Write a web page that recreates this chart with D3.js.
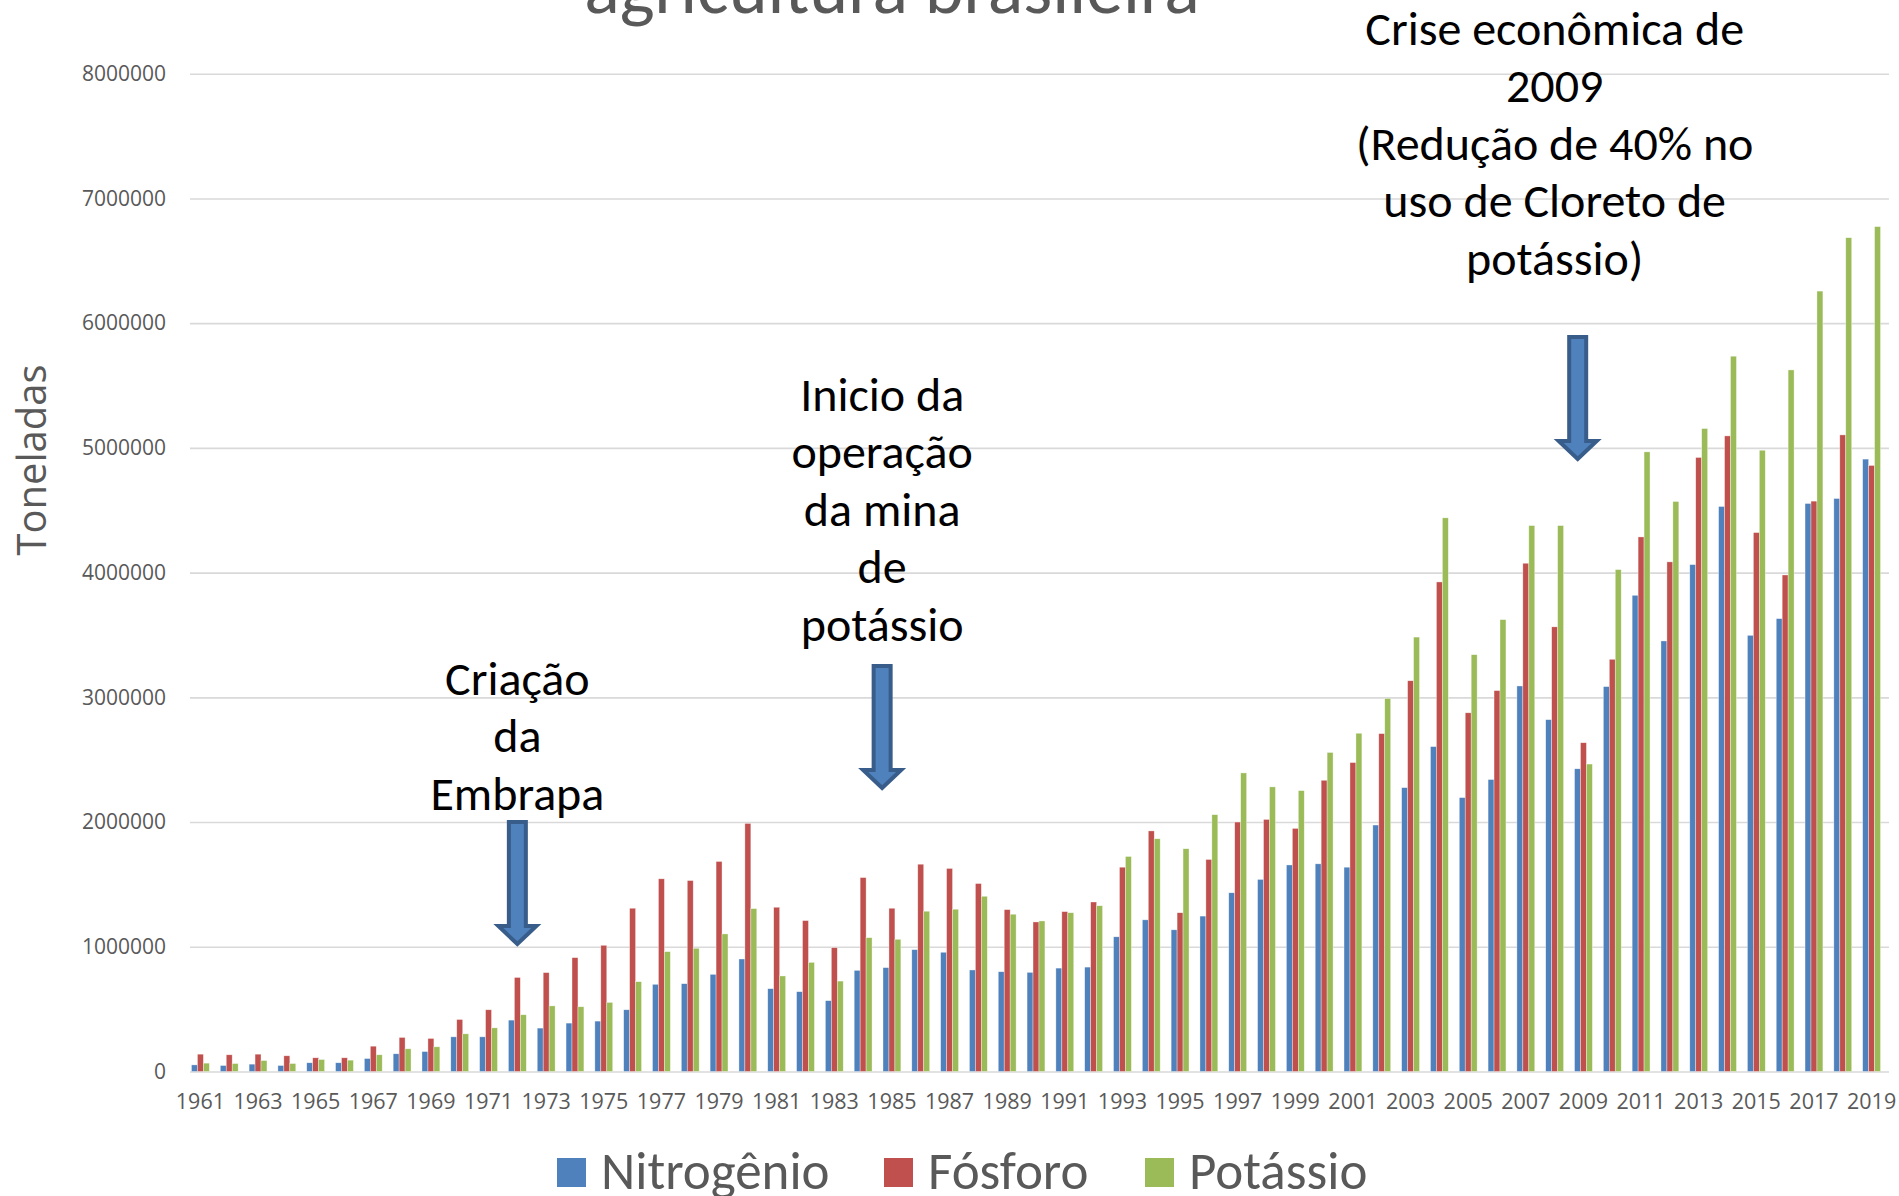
<!DOCTYPE html>
<html>
<head>
<meta charset="utf-8">
<script src="https://cdn.jsdelivr.net/npm/d3@7"></script>
<style>
    body { margin: 0; background: #fff; }
    svg { display: block; }
</style>
</head>
<body>
<div id="chart"></div>
<script>
///////////////////////////
// DATA
///////////////////////////

const years = [
    1961, 1962, 1963, 1964, 1965, 1966, 1967, 1968, 1969, 1970,
    1971, 1972, 1973, 1974, 1975, 1976, 1977, 1978, 1979, 1980,
    1981, 1982, 1983, 1984, 1985, 1986, 1987, 1988, 1989, 1990,
    1991, 1992, 1993, 1994, 1995, 1996, 1997, 1998, 1999, 2000,
    2001, 2002, 2003, 2004, 2005, 2006, 2007, 2008, 2009, 2010,
    2011, 2012, 2013, 2014, 2015, 2016, 2017, 2018, 2019
];

const nitrogenio = [
    53000, 48000, 59000, 48000, 70000, 70000, 104000, 142000, 160000, 278000,
    278000, 412000, 348000, 388000, 404000, 495000, 699000, 704000, 779000, 902000,
    664000, 640000, 568000, 811000, 833000, 977000, 956000, 814000, 800000, 795000,
    829000, 837000, 1080000, 1216000, 1136000, 1246000, 1433000, 1540000, 1656000, 1665000,
    1638000, 1976000, 2276000, 2605000, 2196000, 2341000, 3091000, 2821000, 2427000, 3086000,
    3818000, 3452000, 4064000, 4530000, 3497000, 3631000, 4554000, 4594000, 4910000
];

const fosforo = [
    139000, 134000, 139000, 126000, 110000, 110000, 203000, 273000, 265000, 417000,
    495000, 754000, 793000, 913000, 1012000, 1309000, 1545000, 1531000, 1684000, 1989000,
    1317000, 1210000, 993000, 1555000, 1309000, 1662000, 1628000, 1507000, 1298000, 1199000,
    1282000, 1359000, 1638000, 1929000, 1273000, 1700000, 2000000, 2021000, 1949000, 2335000,
    2477000, 2709000, 3133000, 3925000, 2876000, 3054000, 4075000, 3565000, 2636000, 3305000,
    4286000, 4086000, 4923000, 5096000, 4321000, 3981000, 4573000, 5104000, 4859000
];

const potassio = [
    67000, 64000, 88000, 64000, 96000, 91000, 134000, 182000, 198000, 302000,
    350000, 455000, 526000, 519000, 554000, 720000, 961000, 988000, 1103000, 1306000,
    766000, 875000, 725000, 1073000, 1060000, 1285000, 1301000, 1405000, 1261000, 1207000,
    1273000, 1329000, 1724000, 1866000, 1786000, 2059000, 2394000, 2282000, 2252000, 2558000,
    2712000, 2991000, 3483000, 4439000, 3342000, 3623000, 4377000, 4377000, 2465000, 4024000,
    4968000, 4570000, 5155000, 5735000, 4981000, 5625000, 6257000, 6685000, 6774000
];

const seriesNames = ['Nitrogênio', 'Fósforo', 'Potássio'];
const seriesColors = ['#4f81bd', '#c0504d', '#9bbb59'];
const yTicks = [0, 1000000, 2000000, 3000000, 4000000, 5000000, 6000000, 7000000, 8000000];

const notes = [
    { year: 1972, lines: ['Criação', 'da', 'Embrapa'] },
    { year: 1984.66, lines: ['Inicio da', 'operação', 'da mina', 'de', 'potássio'] },
    { year: 2008.8, lines: ['Crise econômica de', '2009', '(Redução de 40% no', 'uso de Cloreto de', 'potássio)'] }
];

///////////////////////////
// SETUP
///////////////////////////

const width = 1899;
const height = 1196;
const font = 'Carlito, Calibri, Lato, sans-serif';
const gray = '#595959';

const svg = d3.select('#chart')
    .append('svg')
    .attr('width', width)
    .attr('height', height);

const x = d3.scaleBand()
    .domain(years)
    .range([186, 1886])
    .paddingInner(0.38)
    .paddingOuter(0.19);

const xInner = d3.scaleBand()
    .domain(seriesNames)
    .range([0, x.bandwidth()]);

const y = d3.scaleLinear()
    .domain([0, 8000000])
    .range([1071.5, 73.7]);

const rows = years.map((yr, i) => {
    return { year: yr, values: [nitrogenio[i], fosforo[i], potassio[i]] };
});

// title is partly cut off at the top edge
svg.append('text')
    .attr('x', 892)
    .attr('y', 13)
    .attr('text-anchor', 'middle')
    .style('font-family', font)
    .style('font-size', '74px')
    .style('fill', gray)
    .text('agricultura brasileira');

///////////////////////////
// AXES
///////////////////////////

const yAxis = svg.append('g')
    .attr('transform', 'translate(190,0)')
    .call(d3.axisLeft(y).tickValues(yTicks).tickFormat(d3.format('d')).tickSize(-1699).tickPadding(24));

yAxis.select('.domain').remove();
yAxis.selectAll('.tick line')
    .style('stroke', '#d9d9d9')
    .style('stroke-width', 1.6);
yAxis.selectAll('.tick text')
    .style('font-family', '"Open Sans", sans-serif')
    .style('font-size', '21px')
    .style('fill', gray);

const xAxis = svg.append('g')
    .attr('transform', 'translate(0,1071.5)')
    .call(d3.axisBottom(x).tickValues(years.filter((d, i) => i % 2 === 0)).tickSize(0).tickPadding(22));

xAxis.select('.domain').remove();
xAxis.selectAll('.tick text')
    .style('font-family', '"Open Sans", sans-serif')
    .style('font-size', '21.5px')
    .style('fill', gray);

svg.append('text')
    .attr('transform', 'translate(46,460) rotate(-90)')
    .attr('text-anchor', 'middle')
    .style('font-family', '"Open Sans", sans-serif')
    .style('font-size', '40px')
    .style('fill', gray)
    .text('Toneladas');

///////////////////////////
// BARS
///////////////////////////

const group = svg.selectAll('.year')
    .data(rows)
    .enter().append('g')
    .attr('class', 'year')
    .attr('transform', (d) => { return `translate(${x(d.year)},0)` });

group.selectAll('rect')
    .data((d) => { return d.values.map((v, i) => ({ name: seriesNames[i], value: v, color: seriesColors[i] })) })
    .enter().append('rect')
    .attr('x', (d) => { return xInner(d.name) })
    .attr('y', (d) => { return y(d.value) })
    .attr('width', xInner.bandwidth())
    .attr('height', (d) => { return y(0) - y(d.value) })
    .style('fill', (d) => { return d.color })
    .style('stroke', '#fff')
    .style('stroke-opacity', 0.6)
    .style('stroke-width', 0.6);

///////////////////////////
// ANNOTATIONS
///////////////////////////

const arrowPath = (cx, top) => {
    const shaft = 8.5, head = 19;
    return `M${cx - shaft},${top} L${cx + shaft},${top} L${cx + shaft},${top + 104} ` +
        `L${cx + head},${top + 104} L${cx},${top + 122} L${cx - head},${top + 104} ` +
        `L${cx - shaft},${top + 104} Z`;
}

const noteTops = [822, 666, 337];
const noteFirstLine = [678, 394, 28];

notes.forEach((n, i) => {
    const cx = x(Math.floor(n.year)) + x.bandwidth() / 2 + (n.year % 1) * x.step();
    svg.append('path')
        .attr('d', arrowPath(cx, noteTops[i]))
        .style('fill', '#4f81bd')
        .style('stroke', '#385d8a')
        .style('stroke-width', 4);

    const tx = i === 2 ? cx - 23 : cx;
    svg.append('g').selectAll('text')
        .data(n.lines)
        .enter().append('text')
        .attr('x', tx)
        .attr('y', (d, j) => { return noteFirstLine[i] + j * 57.5 })
        .attr('dy', '0.35em')
        .attr('text-anchor', 'middle')
        .style('font-family', font)
        .style('font-size', '48px')
        .style('fill', '#000')
        .text((d) => { return d });
});

///////////////////////////
// LEGEND
///////////////////////////

const legendX = [557, 884, 1145];

const legend = svg.selectAll('.legend')
    .data(seriesNames)
    .enter().append('g')
    .attr('class', 'legend')
    .attr('transform', (d, i) => { return `translate(${legendX[i]},1158)` });

legend.append('rect')
    .attr('width', 29)
    .attr('height', 29)
    .style('fill', (d, i) => { return seriesColors[i] });

legend.append('text')
    .attr('x', 44)
    .attr('y', 31)
    .style('font-family', font)
    .style('font-size', '53px')
    .style('fill', gray)
    .text((d) => { return d });
</script>
</body>
</html>
